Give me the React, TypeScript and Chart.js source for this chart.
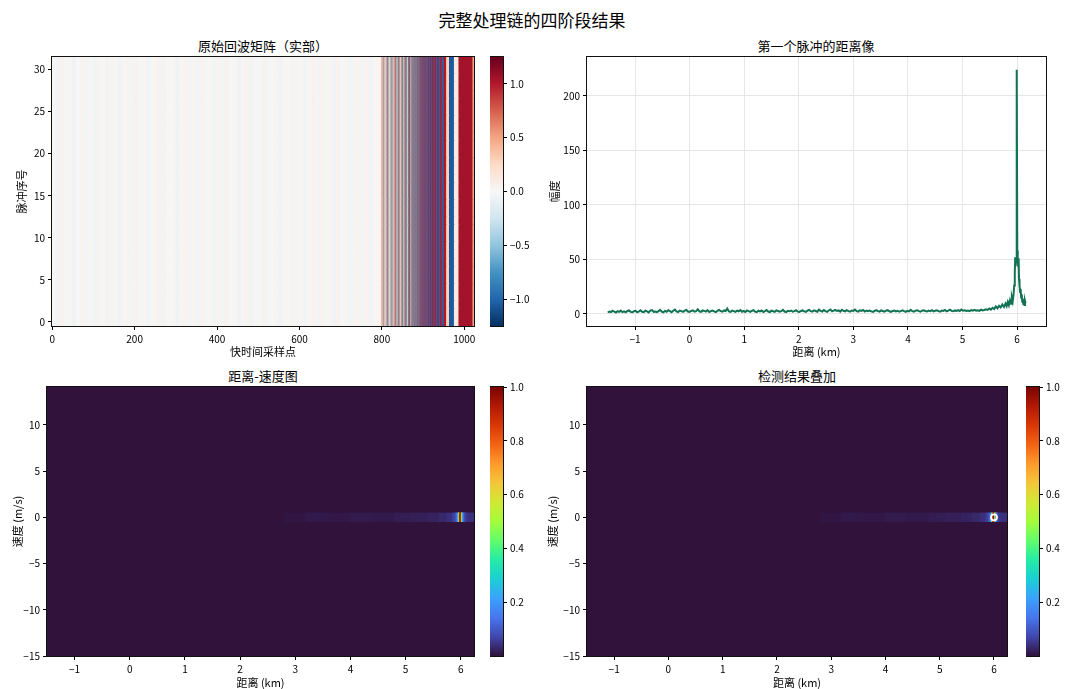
import React, { useEffect, useRef } from 'react';
import { Chart, registerables } from 'chart.js';

Chart.register(...registerables);

const FONT = "'Noto Sans CJK SC', 'Noto Sans', 'DejaVu Sans', sans-serif";
const TEXT = '#000000';

// ---------------- Panel 1: raw echo matrix (real part) ----------------
const echoRows = 32;
const echoSampleMax = 1023.5;
const echoXTicks = [0, 200, 400, 600, 800, 1000];
const echoYTicks = [0, 5, 10, 15, 20, 25, 30];
const echoCbarTicks = [-1.0, -0.5, 0.0, 0.5, 1.0];
const echoVmin = -1.25;
const echoVmax = 1.25;
const noiseSegWidth = 10;
const noiseValues = [
  0.02, -0.04, 0.05, -0.02, 0.03, -0.05, 0.01, 0.04, -0.03, 0.02,
  -0.04, 0.04, -0.01, 0.05, -0.03, 0.03, -0.05, 0.02, 0.04, -0.03,
  0.05, -0.02, 0.03, -0.04, 0.01, 0.04, -0.04, 0.05, -0.01, 0.03,
  -0.05, 0.02, 0.04, -0.03, 0.03, -0.04, 0.05, -0.02, 0.01, -0.04,
  0.04, -0.03, 0.05, -0.01, 0.03, -0.05, 0.02, 0.04, -0.04, 0.03,
  -0.02, 0.05, -0.03, 0.01, 0.04, -0.05, 0.03, -0.01, 0.04, -0.03,
  0.03, -0.04, 0.02, 0.05, -0.03, 0.04, -0.02, 0.03, -0.05, 0.05,
  -0.01, 0.03, -0.04, 0.02, 0.04, -0.03, 0.04, -0.04, 0.01, 0.03,
];
const stripeStarts = [
  799.5, 802, 804.5, 807, 809.5, 812, 814.5, 817, 819.5, 822, 824.5, 827, 829.5, 832, 834.5, 837,
  839.5, 842, 844.5, 847, 849.5, 852, 854.5, 857, 859.5, 862, 864.5, 867, 869.5, 872, 874.5,
  877, 879, 881, 883, 885, 887, 889, 891, 893.2, 895.4, 897.6, 899.8, 902, 904.5, 907, 909.5,
  912, 914.7, 917.4, 920.2, 923, 926, 929, 932.2, 935.5, 939, 942.6, 946.4, 951, 957, 964, 976,
  987, 1021,
];
const stripeValues = [
  0.5, -0.45, 0.65, -0.3, 0.4, -0.6, 0.75, -0.35, 0.3, -0.65, 0.6, -0.5, 0.35, 0.8, -0.6, 0.4,
  -0.75, 0.7, -0.3, 0.55, -0.8, 0.45, -0.6, 0.75, -0.7, 0.4, -0.8, 0.85, -0.55, 0.7, -0.75,
  0.75, -0.75, 0.85, -0.65, 0.85, -0.85, 0.8, -0.85, 0.9, -0.9, 0.95, -0.9, 0.95, -0.95, 0.95, -0.9,
  1.0, -0.95, 1.0, -1.0, 1.0, -1.0, 1.0, -1.0, 1.0, -1.0, 1.0, -1.0, 1.0, 0.3, -1.05, 0.12,
  1.05, 0.5,
];

// ---------------- Panel 2: range profile of first pulse ----------------
const profileStartKm = -1.5;
const profileStepKm = 0.03;
const profileBaseAmp = [
  1.2, 2.1, 1.6, 2.8, 1.9, 1.1, 2.4, 1.7, 2.9, 1.5, 2.2, 1.3, 2.6, 3.1, 1.8, 1.4, 2.3, 2.7, 1.6, 2.0,
  3.2, 1.9, 1.5, 2.8, 2.2, 1.3, 2.9, 3.4, 1.7, 2.1, 1.6, 2.5, 3.6, 2.0, 1.4, 2.7, 1.9, 3.3, 2.4, 1.5,
  2.8, 3.9, 2.2, 1.6, 3.0, 2.5, 1.8, 2.9, 3.5, 2.1, 1.7, 2.6, 3.2, 1.9, 2.4, 4.1, 2.3, 1.8, 3.1, 2.7,
  2.0, 3.4, 1.6, 2.5, 3.0, 2.2, 1.5, 2.8, 3.6, 2.4, 1.9, 3.1, 2.6, 4.8, 2.1, 1.7, 3.0, 2.5, 1.8, 2.9,
  2.3, 3.5, 1.9, 2.6, 1.6, 3.1, 2.4, 1.8, 2.7, 3.3, 2.0, 1.5, 2.8, 2.2, 3.0, 1.7, 2.5, 3.4, 2.1, 1.6,
  2.9, 2.3, 1.8, 3.2, 2.6, 1.9, 2.4, 3.7, 2.1, 1.6, 2.8, 2.3, 3.0, 1.9, 2.5, 3.3, 2.0, 1.7, 2.6, 3.1,
  2.2, 1.8, 2.9, 3.5, 2.4, 2.0, 3.2, 2.6, 1.9, 3.8, 2.7, 2.1, 3.4, 2.5, 1.8, 3.0, 4.0, 2.3, 2.9, 3.6,
  2.6, 3.1, 2.0, 3.7, 2.8, 2.2, 3.3, 2.5, 1.9, 3.0, 2.7, 3.9, 2.4, 2.0, 3.2, 2.6, 3.5, 2.1, 2.9, 2.4,
  3.0, 2.2, 1.8, 2.7, 3.3, 2.5, 2.0, 3.1, 2.6, 1.9, 2.8, 3.4, 2.3, 1.7, 2.6, 3.0, 2.2, 2.8, 1.9, 2.5,
  3.1, 2.4, 1.8, 2.7, 2.2, 3.6, 2.5, 2.0, 2.9, 3.3, 2.4, 1.9, 2.8, 3.2, 2.6, 2.1, 3.0, 2.5, 3.4, 2.2,
  2.8, 3.2, 2.4, 1.9, 3.0, 2.6, 3.5, 2.2, 2.9, 3.8, 2.7, 2.3, 3.1, 2.6, 3.4, 2.5, 3.9, 2.8, 3.2, 2.6,
  3.0, 2.5, 3.4, 2.8, 3.6, 2.9, 3.3, 2.7, 3.8, 3.1, 3.5, 4.2, 3.6, 4.9, 3.8, 5.5, 4.3, 6.8, 5.1, 7.4,
  5.9, 8.6, 6.3, 9.5,
];
const profilePeakKm = [
  5.81, 5.83, 5.85, 5.87, 5.89, 5.905, 5.92, 5.935, 5.948, 5.958, 5.966, 5.974, 5.982, 5.99, 5.997,
  6.004, 6.012, 6.02, 6.028, 6.036, 6.045, 6.055, 6.065, 6.075, 6.085, 6.095, 6.105, 6.115, 6.125,
  6.135, 6.145, 6.155,
];
const profilePeakAmp = [
  7.0, 10.8, 7.9, 12.5, 9.2, 14.8, 11.5, 17.5, 26.0, 38.0, 52.0, 44.0, 50.0, 62.0, 224.0,
  58.0, 50.0, 44.0, 51.0, 32.0, 26.0, 20.0, 23.0, 15.0, 18.0, 11.0, 14.0, 9.0, 12.5,
  8.0, 12.0, 10.0,
];
const profileXTicks = [-1, 0, 1, 2, 3, 4, 5, 6];
const profileYTicks = [0, 50, 100, 150, 200];

// ---------------- Panels 3 & 4: range-Doppler map / detections ----------------
const rdRangeMin = -1.5;
const rdRangeMax = 6.24;
const rdVelocityBins = 32;
const rdVelocityRes = 10 / 11;
const rdZeroBin = 16;
const rdBandEdgesKm = [
  -1.5, 2.8, 3.2, 3.6, 4.0, 4.4, 4.8, 5.1, 5.4, 5.6, 5.75, 5.85, 5.9, 5.93, 5.95, 5.965, 5.975,
  5.985, 6.005, 6.015, 6.025, 6.04, 6.06, 6.08, 6.11, 6.15, 6.24,
];
const rdBandValues = [
  0.0, 0.006, 0.01, 0.008, 0.012, 0.01, 0.015, 0.018, 0.022, 0.03, 0.04, 0.06, 0.09, 0.15, 0.3,
  0.55, 0.8, 1.0, 0.8, 0.55, 0.3, 0.15, 0.09, 0.06, 0.045, 0.04,
];
const rdXTicks = [-1, 0, 1, 2, 3, 4, 5, 6];
const rdYTicks = [-15, -10, -5, 0, 5, 10];
const rdCbarTicks = [0.2, 0.4, 0.6, 0.8, 1.0];
const detRangeKm = [6.0];
const detVelocity = [0.0];

// ---------------- colour maps ----------------
const RDBU_R = ['#053061', '#2166ac', '#4393c3', '#92c5de', '#d1e5f0', '#f7f7f7', '#fddbc7', '#f4a582', '#d6604d', '#b2182b', '#67001f'];
const TURBO = ['#30123b', '#4146ac', '#4776ee', '#3ba1fd', '#1bcfd4', '#24eca6', '#61fc6c', '#a4fc3b', '#d1e834', '#f3c63a', '#fe9b2d', '#f36315', '#d93806', '#b11901', '#7a0403'];

function hexToRgb(h: string) {
  const n = parseInt(h.slice(1), 16);
  return [(n >> 16) & 255, (n >> 8) & 255, n & 255];
}
function makeCmap(stops: string[], vmin: number, vmax: number) {
  const rgb = stops.map(hexToRgb);
  return (v: number) => {
    let t = (v - vmin) / (vmax - vmin);
    t = Math.max(0, Math.min(1, t));
    const p = t * (rgb.length - 1);
    const i = Math.min(rgb.length - 2, Math.floor(p));
    const f = p - i;
    const c = [0, 1, 2].map((k) => Math.round(rgb[i][k] + (rgb[i + 1][k] - rgb[i][k]) * f));
    return `rgb(${c[0]},${c[1]},${c[2]})`;
  };
}
const rdbu = makeCmap(RDBU_R, echoVmin, echoVmax);
const turbo = makeCmap(TURBO, 0, 1);

const minus = (s: string) => s.replace('-', '\u2212');
const fmtInt = (v: number) => minus(String(Math.round(v)));
const fmt1 = (v: number) => minus(v.toFixed(1));

const framePlugin = {
  id: 'frame',
  afterDraw(chart: any) {
    const { ctx, chartArea: a } = chart;
    ctx.save();
    ctx.strokeStyle = '#111';
    ctx.lineWidth = 1;
    ctx.strokeRect(a.left - 0.5, a.top - 0.5, a.right - a.left + 1, a.bottom - a.top + 1);
    ctx.restore();
  },
};

function linAxis(o: any) {
  return {
    type: 'linear',
    position: o.position,
    min: o.min,
    max: o.max,
    offset: false,
    afterBuildTicks: (s: any) => {
      s.ticks = o.ticks.map((v: number) => ({ value: v }));
    },
    afterFit: (s: any) => {
      if (o.horizontal) s.height = o.size;
      else s.width = o.size;
    },
    ticks: {
      font: { family: FONT, size: 10 },
      color: TEXT,
      padding: 3,
      autoSkip: false,
      maxRotation: 0,
      minRotation: 0,
      callback: (v: any) => o.fmt(Number(v)),
    },
    grid: {
      display: true,
      offset: false,
      drawOnChartArea: !!o.gridColor,
      color: o.gridColor || 'rgba(0,0,0,0)',
      lineWidth: 1,
      drawTicks: true,
      tickLength: 4,
      tickColor: '#000',
      tickWidth: 1,
    },
    border: { display: false },
    title: o.title
      ? { display: true, text: o.title, font: { family: FONT, size: 11 }, color: TEXT, padding: o.titlePad }
      : { display: false },
  };
}

const baseOptions = (padding: any) => ({
  animation: false,
  responsive: false,
  maintainAspectRatio: false,
  events: [],
  layout: { padding },
  plugins: { legend: { display: false }, tooltip: { enabled: false }, title: { display: false } },
});

function heatRow(y: number, segs: { from: number; to: number; value: number }[], cmap: (v: number) => string) {
  return {
    type: 'bar',
    data: segs.map((s) => ({ y, x: [s.from, s.to] })),
    backgroundColor: segs.map((s) => cmap(s.value)),
    borderWidth: 0,
    barPercentage: 1,
    categoryPercentage: 1,
    grouped: false,
    inflateAmount: 0.5,
  };
}

function echoConfig() {
  const segs = [
    ...noiseValues.map((v, i) => ({ from: -0.5 + i * noiseSegWidth, to: -0.5 + (i + 1) * noiseSegWidth, value: v })),
    ...stripeStarts.map((s, i) => ({
      from: s,
      to: i + 1 < stripeStarts.length ? stripeStarts[i + 1] : echoSampleMax,
      value: stripeValues[i],
    })),
  ];
  const datasets = Array.from({ length: echoRows }, (_, r) => heatRow(r, segs, rdbu));
  return {
    type: 'bar',
    data: { datasets },
    options: {
      ...baseOptions({ left: 0, right: 12, top: 10, bottom: 0 }),
      indexAxis: 'y',
      scales: {
        x: linAxis({ min: -0.5, max: echoSampleMax, ticks: echoXTicks, fmt: fmtInt, horizontal: true, size: 34, title: '快时间采样点', titlePad: { top: 0, bottom: 1.4 } }),
        y: linAxis({ min: -0.5, max: echoRows - 0.5, ticks: echoYTicks, fmt: fmtInt, horizontal: false, size: 52, title: '脉冲序号', titlePad: { top: 15.4, bottom: 0 } }),
      },
    },
    plugins: [framePlugin],
  };
}

function colorbarConfig(min: number, max: number, ticks: number[], stops: string[], fmt: (v: number) => string) {
  return {
    type: 'bar',
    data: {
      labels: [''],
      datasets: [
        {
          data: [[min, max]],
          backgroundColor: (c: any) => {
            const a = c.chart.chartArea;
            if (!a) return stops[0];
            const g = c.chart.ctx.createLinearGradient(0, a.bottom, 0, a.top);
            stops.forEach((s, i) => g.addColorStop(i / (stops.length - 1), s));
            return g;
          },
          borderWidth: 0,
          barPercentage: 1,
          categoryPercentage: 1,
        },
      ],
    },
    options: {
      ...baseOptions({ left: 0, right: 0, top: 10, bottom: 10 }),
      scales: {
        x: { display: false },
        y: linAxis({ min, max, ticks, fmt, horizontal: false, size: 40, position: 'right' }),
      },
    },
    plugins: [framePlugin],
  };
}

function profileConfig() {
  const points = [
    ...profileBaseAmp.map((a, i) => ({ x: profileStartKm + i * profileStepKm, y: a })),
    ...profilePeakKm.map((k, i) => ({ x: k, y: profilePeakAmp[i] })),
  ];
  return {
    type: 'line',
    data: {
      datasets: [
        { data: points, borderColor: '#117254', borderWidth: 2, pointRadius: 0, tension: 0, fill: false },
      ],
    },
    options: {
      ...baseOptions({ left: 0, right: 15, top: 10, bottom: 0 }),
      scales: {
        x: linAxis({ min: -1.88, max: 6.53, ticks: profileXTicks, fmt: fmtInt, horizontal: true, size: 34, title: '距离 (km)', titlePad: { top: 0, bottom: 1.4 }, gridColor: '#e6e6e6' }),
        y: linAxis({ min: -11.2, max: 235.8, ticks: profileYTicks, fmt: fmtInt, horizontal: false, size: 47, title: '幅度', titlePad: { top: 8.4, bottom: 0 }, gridColor: '#e6e6e6' }),
      },
    },
    plugins: [framePlugin],
  };
}

function rdConfig(withDetections: boolean, yTitlePad: number) {
  const centers = Array.from({ length: rdVelocityBins }, (_, i) => (i - rdZeroBin) * rdVelocityRes);
  const bandSegs = rdBandValues.map((v, i) => ({ from: rdBandEdgesKm[i], to: rdBandEdgesKm[i + 1], value: v }));
  const background = {
    type: 'bar',
    data: centers.map((v) => ({ y: v, x: [rdRangeMin, rdRangeMax] })),
    backgroundColor: turbo(0),
    borderWidth: 0,
    barPercentage: 1,
    categoryPercentage: 1,
    grouped: false,
    inflateAmount: 0.5,
  };
  const band = heatRow(0, bandSegs, turbo);
  const datasets: any[] = [];
  if (withDetections) {
    datasets.push({
      type: 'scatter',
      indexAxis: 'x',
      data: detRangeKm.map((r, i) => ({ x: r, y: detVelocity[i] })),
      pointRadius: 3,
      pointBorderWidth: 1.8,
      pointBorderColor: '#ffffff',
      pointBackgroundColor: 'rgba(0,0,0,0)',
      borderColor: '#ffffff',
      backgroundColor: 'rgba(0,0,0,0)',
      showLine: false,
    });
  }
  datasets.push(band, background);
  return {
    type: 'bar',
    data: { datasets },
    options: {
      ...baseOptions({ left: 0, right: 12, top: 10, bottom: 0 }),
      indexAxis: 'y',
      scales: {
        x: linAxis({ min: rdRangeMin, max: rdRangeMax, ticks: rdXTicks, fmt: fmtInt, horizontal: true, size: 34, title: '距离 (km)', titlePad: { top: 0, bottom: 0.4 } }),
        y: linAxis({ min: -15, max: (rdVelocityBins - rdZeroBin - 0.5) * rdVelocityRes, ticks: rdYTicks, fmt: fmtInt, horizontal: false, size: 47, title: '速度 (m/s)', titlePad: { top: yTitlePad, bottom: 0 } }),
      },
    },
    plugins: [framePlugin],
  };
}

function ChartBox({ left, top, width, height, make }: any) {
  const ref = useRef<HTMLCanvasElement>(null);
  useEffect(() => {
    const chart = new Chart(ref.current as HTMLCanvasElement, make());
    return () => chart.destroy();
  }, []);
  return (
    <canvas
      ref={ref}
      width={width}
      height={height}
      style={{ position: 'absolute', left, top, width, height }}
    />
  );
}

function Label({ x, y, size, text }: any) {
  return (
    <div
      style={{
        position: 'absolute',
        left: x - 300,
        top: y - size,
        width: 600,
        height: size * 2,
        lineHeight: `${size * 2}px`,
        textAlign: 'center',
        fontSize: size,
        fontFamily: FONT,
        color: TEXT,
        whiteSpace: 'nowrap',
      }}
    >
      {text}
    </div>
  );
}

export default function App() {
  return (
    <div
      style={{
        position: 'fixed',
        left: 0,
        top: 0,
        width: 1065,
        height: 689,
        background: '#ffffff',
        overflow: 'hidden',
      }}
    >
      <Label x={532} y={20} size={17} text="完整处理链的四阶段结果" />
      <Label x={263} y={46} size={13} text="原始回波矩阵（实部）" />
      <Label x={816} y={46} size={13} text="第一个脉冲的距离像" />
      <Label x={263} y={376} size={13} text="距离-速度图" />
      <Label x={797} y={376} size={13} text="检测结果叠加" />

      <ChartBox left={0} top={47} width={486} height={313} make={echoConfig} />
      <ChartBox left={490} top={47} width={53} height={289} make={() => colorbarConfig(echoVmin, echoVmax, echoCbarTicks, RDBU_R, fmt1)} />
      <ChartBox left={540} top={47} width={521} height={313} make={profileConfig} />

      <ChartBox left={0} top={377} width={486} height={313} make={() => rdConfig(false, 11.4)} />
      <ChartBox left={490} top={377} width={53} height={289} make={() => colorbarConfig(0, 1, rdCbarTicks, TURBO, fmt1)} />
      <ChartBox left={540} top={377} width={479} height={313} make={() => rdConfig(true, 6.4)} />
      <ChartBox left={1026} top={377} width={53} height={289} make={() => colorbarConfig(0, 1, rdCbarTicks, TURBO, fmt1)} />
    </div>
  );
}
